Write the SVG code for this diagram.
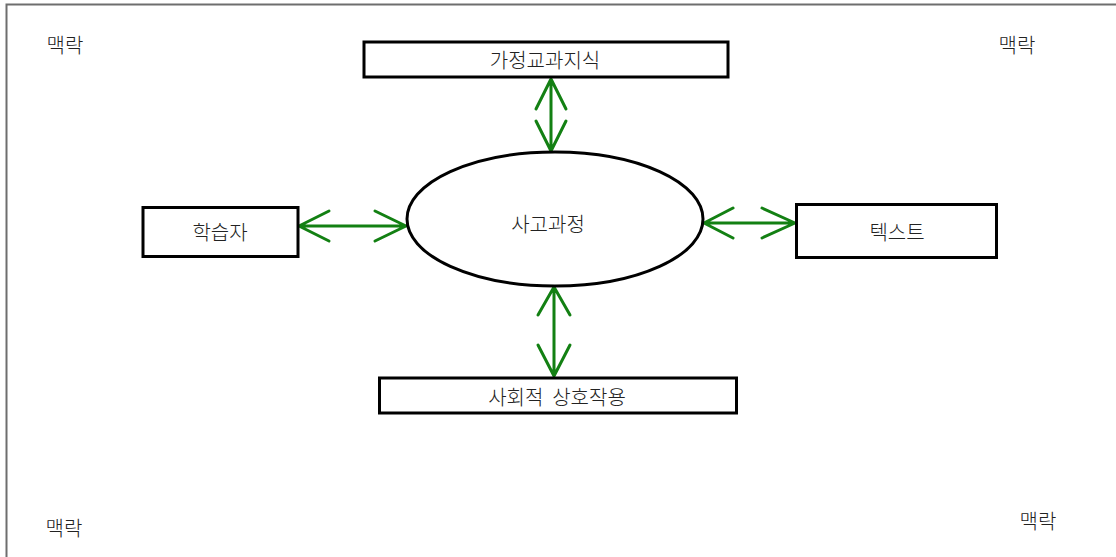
<svg xmlns="http://www.w3.org/2000/svg" width="1116" height="557" viewBox="0 0 1116 557">
  <defs>
    <style>
      .frame { stroke: #6e6e6e; stroke-width: 2; fill: none; }
      .box { fill: #ffffff; stroke: #000000; stroke-width: 3; }
      .oval { fill: #ffffff; stroke: #000000; stroke-width: 3; }
      .lbl { font-family: "Noto Sans CJK KR", "Noto Sans", sans-serif; font-size: 20px; font-weight: 300; fill: #222222; text-anchor: middle; dominant-baseline: central; }
      .link { stroke: #138013; stroke-width: 3; fill: none; stroke-linecap: round; stroke-linejoin: round; }
    </style>
  </defs>
  <rect width="1116" height="557" fill="#ffffff"/>

  <!-- outer frame (top and left edges) -->
  <g id="frame">
    <path class="frame" d="M6.5 557 V4.5 H1116"/>
  </g>

  <!-- corner context labels -->
  <g id="context-labels">
    <text class="lbl" x="65" y="44">맥락</text>
    <text class="lbl" x="1017" y="44">맥락</text>
    <text class="lbl" x="64" y="527">맥락</text>
    <text class="lbl" x="1038" y="520">맥락</text>
  </g>

  <!-- connectors: double-headed open arrows -->
  <g id="connectors">
    <!-- knowledge <-> thinking -->
    <path class="link" d="M551 79 V151 M536 109 L551 79 L566 109 M536 121 L551 151 L566 121"/>
    <!-- learner <-> thinking -->
    <path class="link" d="M299 226 H406 M329 211 L299 226 L329 241 M375 211 L406 226 L375 241"/>
    <!-- thinking <-> text -->
    <path class="link" d="M704 223 H795 M733 208 L704 223 L733 238 M762 208 L795 223 L762 238"/>
    <!-- thinking <-> social interaction -->
    <path class="link" d="M554 287 V376 M538 315 L554 287 L570 315 M538 345 L554 376 L570 345"/>
  </g>

  <g id="node-knowledge">
    <rect class="box" x="364" y="42" width="364" height="35"/>
    <text class="lbl" x="545" y="59">가정교과지식</text>
  </g>

  <g id="node-learner">
    <rect class="box" x="143" y="207.5" width="155" height="49"/>
    <text class="lbl" x="220" y="231">학습자</text>
  </g>

  <g id="node-thinking">
    <ellipse class="oval" cx="555" cy="219" rx="148" ry="67"/>
    <text class="lbl" x="548" y="223">사고과정</text>
  </g>

  <g id="node-text">
    <rect class="box" x="796.5" y="204.5" width="200" height="53"/>
    <text class="lbl" x="897" y="231">텍스트</text>
  </g>

  <g id="node-social">
    <rect class="box" x="379.5" y="378" width="357" height="35"/>
    <text class="lbl" x="557" y="396">사회적&#160;&#160;상호작용</text>
  </g>
</svg>
